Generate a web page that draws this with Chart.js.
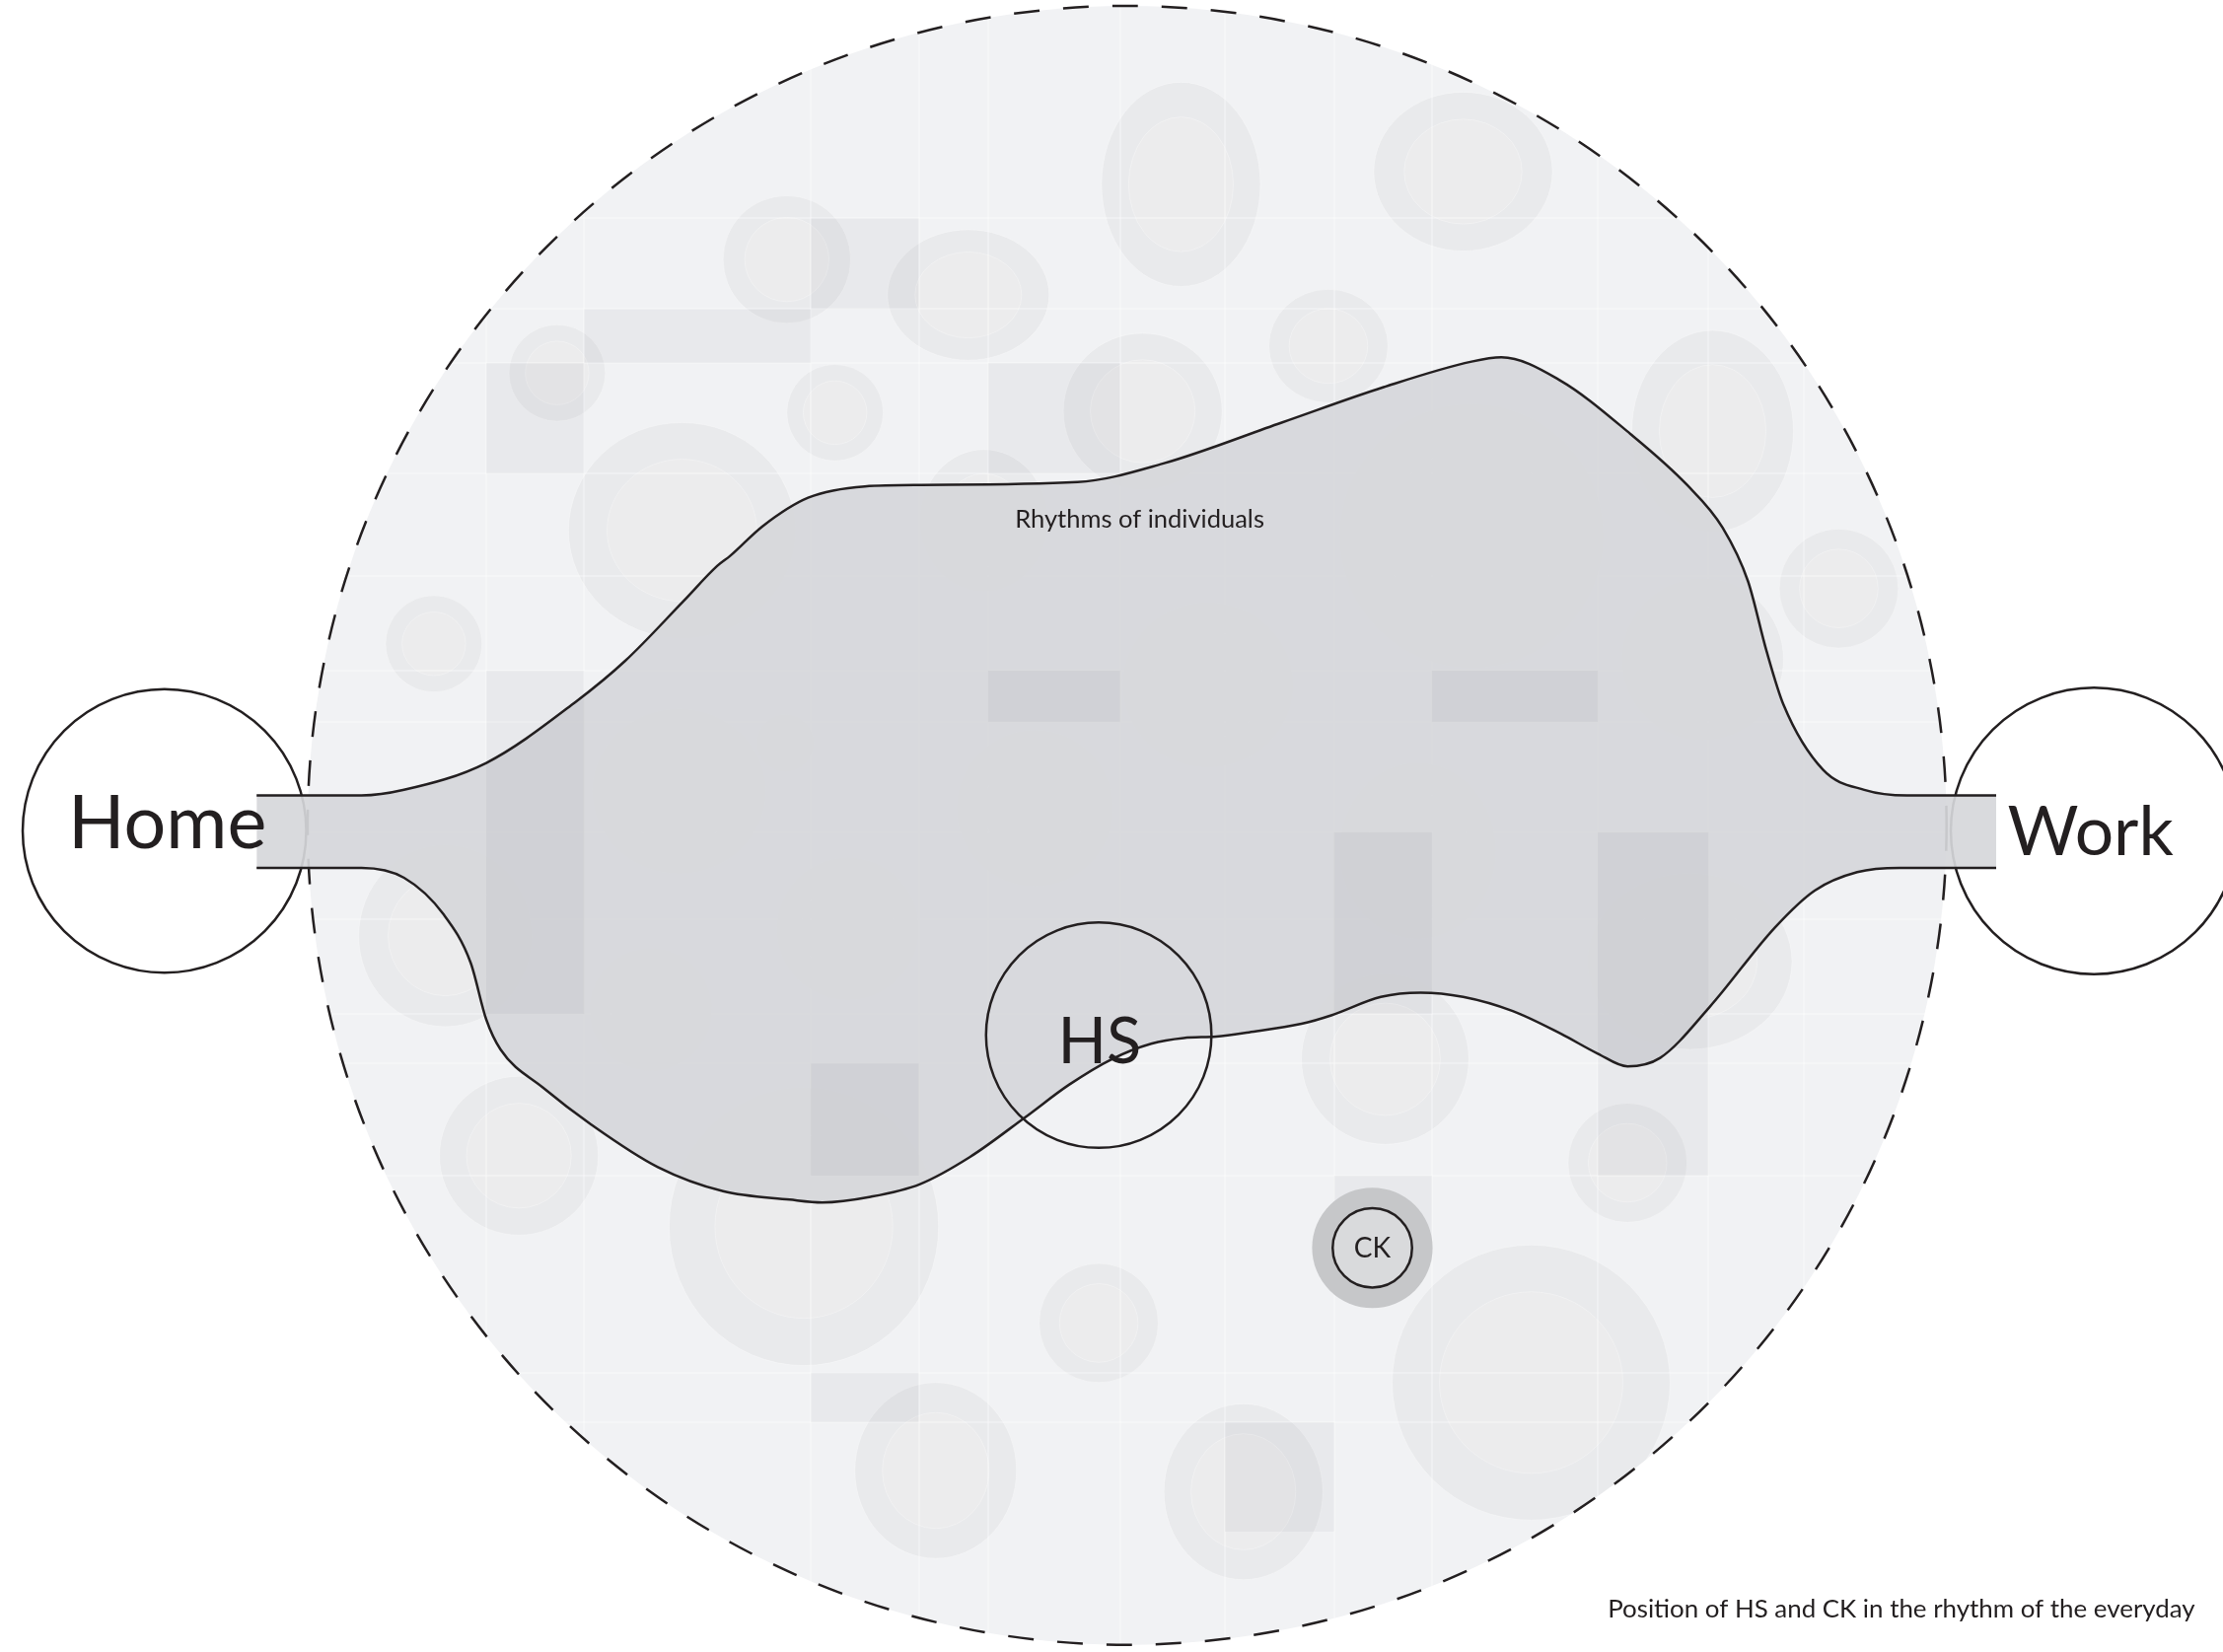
<!DOCTYPE html>
<html>
<head>
<meta charset="utf-8">
<title>Position of HS and CK in the rhythm of the everyday</title>
<script src="https://cdn.jsdelivr.net/npm/chart.js@4.4.1/dist/chart.umd.min.js"></script>
<style>
  html, body { margin: 0; padding: 0; background: #fff; }
  canvas { display: block; }
</style>
</head>
<body>
<canvas id="rhythm" width="2254" height="1675"></canvas>
<script>
// all values are in reference units: the drawing is 1568 x 1165 of them
const frameWidth = 1568;
const frameHeight = 1165;

// the dashed "everyday" disc
const discX = 795;
const discY = 582;
const discR = 578;

// rhythms of individuals: upper and lower edge, Home connector to Work connector
const topEdgeX = [181, 218, 255, 285, 343, 406, 441, 482, 506, 515, 538, 570, 610, 650, 760, 820, 904, 976, 1038, 1059, 1100, 1150, 1190, 1215, 1233, 1246, 1258, 1286, 1315, 1345, 1373, 1408];
const topEdgeY = [561, 561, 561, 557, 538, 495, 466, 424, 399, 392, 371, 351, 343, 342, 340, 327, 298, 273, 255, 252, 268, 306, 342, 372, 410, 459, 497, 543, 557, 561, 561, 561];
const bottomEdgeX = [181, 218, 255, 285, 313, 332, 343, 353, 383, 417, 464, 510, 557, 580, 614, 649, 684, 723, 754, 784, 812, 835, 858, 881, 918, 939, 974, 1002, 1032, 1067, 1101, 1127, 1148, 1171, 1206, 1252, 1280, 1310, 1340, 1373, 1408];
const bottomEdgeY = [612, 612, 612, 619, 645, 679, 719, 740, 767, 793, 823, 840, 846, 848, 844, 835, 816, 788, 765, 747, 736, 732, 731, 728, 722, 716, 703, 700, 703, 713, 729, 743, 752, 746, 710, 654, 628, 615, 612, 612, 612];

// places
const placeNames = ['Home', 'Work', 'HS', 'CK'];
const placeX = [116, 1477, 775, 968];
const placeY = [586, 586, 730, 880];
const placeR = [100, 101, 79.5, 28];
const ckHaloR = 42.5;

// background patches (ellipses)
const patchX = [833, 1032, 555, 683, 937, 393, 589, 806, 1208, 481, 694, 1038, 1297, 306, 852, 1201, 479, 554, 730, 1000, 314, 598, 459, 1192, 977, 366, 567, 1148, 775, 1080, 660, 877];
const patchY = [130, 121, 183, 208, 244, 263, 291, 290, 304, 374, 367, 378, 415, 454, 483, 465, 558, 524, 570, 600, 660, 655, 712, 678, 747, 815, 865, 820, 933, 975, 1037, 1052];
const patchRx = [56, 63, 45, 57, 42, 34, 34, 56, 57, 80, 45, 93, 42, 34, 60, 57, 61, 20, 55, 55, 61, 50, 43, 72, 59, 56, 95, 42, 42, 98, 57, 56];
const patchRy = [72, 56, 45, 46, 40, 34, 34, 55, 71, 76, 50, 93, 42, 34, 58, 57, 58, 20, 55, 62, 64, 50, 43, 62, 60, 56, 98, 42, 42, 97, 62, 62];

// background tiles
const tileLeft = [572, 412, 343, 697, 343, 697, 1010, 941, 1127, 572, 572, 864, 941];
const tileTop = [154, 218, 256, 256, 473, 473, 473, 587, 587, 750, 968, 1003, 829];
const tileRight = [648, 572, 412, 790, 412, 790, 1127, 1010, 1205, 648, 648, 941, 1010];
const tileBottom = [218, 256, 334, 334, 715, 509, 509, 715, 829, 829, 1003, 1080, 890];

// tile seams
const seamX = [343, 412, 572, 648, 697, 790, 864, 941, 1010, 1127, 1205, 1272];
const seamY = [154, 218, 256, 334, 406, 473, 509, 587, 648, 715, 750, 829, 968, 1003];

// captions: text, left, right, baseline
const captionText = ['Home', 'Work', 'HS', 'CK', 'Rhythms of individuals', 'Position of HS and CK in the rhythm of the everyday'];
const captionLeft = [48, 1416, 746, 955, 716, 1134];
const captionRight = [188, 1533, 805, 981, 892, 1548];
const captionBase = [598, 603, 750, 887, 372, 1141];

const ink = '#231f20';
const fontFamily = 'Lato, "Noto Sans", sans-serif';

const toPoints = (xs, ys) => xs.map((x, i) => ({x: x, y: ys[i]}));
const lenX = (chart, v) => Math.abs(chart.scales.x.getPixelForValue(v) - chart.scales.x.getPixelForValue(0));
const lenY = (chart, v) => Math.abs(chart.scales.y.getPixelForValue(v) - chart.scales.y.getPixelForValue(0));

const BOTTOM_EDGE = 1;

/**
 * 背景の円盤・模様・破線・文字
 */
const backdrop = {
  id: 'backdrop',
  beforeDraw(chart) {
    const {ctx} = chart;
    const sx = chart.scales.x;
    const sy = chart.scales.y;
    ctx.save();
    ctx.fillStyle = '#ffffff';
    ctx.fillRect(0, 0, chart.width, chart.height);

    ctx.beginPath();
    ctx.arc(sx.getPixelForValue(discX), sy.getPixelForValue(discY), lenX(chart, discR), 0, Math.PI * 2);
    ctx.fillStyle = '#f1f2f4';
    ctx.fill();
    ctx.clip();

    patchX.forEach((x, i) => {
      const cx = sx.getPixelForValue(x);
      const cy = sy.getPixelForValue(patchY[i]);
      const rx = lenX(chart, patchRx[i]);
      const ry = lenY(chart, patchRy[i]);
      ctx.beginPath();
      ctx.ellipse(cx, cy, rx, ry, 0, 0, Math.PI * 2);
      ctx.fillStyle = '#e9eaec';
      ctx.fill();
      ctx.strokeStyle = 'rgba(255,255,255,0.3)';
      ctx.lineWidth = 1;
      ctx.stroke();
      ctx.beginPath();
      ctx.ellipse(cx, cy, rx * 0.66, ry * 0.66, 0, 0, Math.PI * 2);
      ctx.fillStyle = '#ececed';
      ctx.fill();
      ctx.stroke();
    });
    ctx.restore();
  },
  beforeDatasetsDraw(chart) {
    const {ctx} = chart;
    ctx.save();
    ctx.beginPath();
    ctx.arc(chart.scales.x.getPixelForValue(discX), chart.scales.y.getPixelForValue(discY), lenX(chart, discR), 0, Math.PI * 2);
    ctx.setLineDash([26, 24]);
    ctx.lineWidth = 2.5;
    ctx.strokeStyle = ink;
    ctx.stroke();
    ctx.restore();
  },
  afterDatasetDraw(chart, args) {
    if (args.index !== BOTTOM_EDGE) return;
    // タイルは乗算で重ねる
    const {ctx} = chart;
    const sx = chart.scales.x;
    const sy = chart.scales.y;
    ctx.save();
    ctx.globalCompositeOperation = 'multiply';
    ctx.fillStyle = '#f6f6f7';
    tileLeft.forEach((x0, i) => {
      const l = sx.getPixelForValue(x0);
      const t = sy.getPixelForValue(tileTop[i]);
      ctx.fillRect(l, t, sx.getPixelForValue(tileRight[i]) - l, sy.getPixelForValue(tileBottom[i]) - t);
    });
    ctx.restore();
  },
  afterDatasetsDraw(chart) {
    const {ctx} = chart;
    const sx = chart.scales.x;
    const sy = chart.scales.y;
    ctx.save();
    ctx.fillStyle = ink;
    ctx.textAlign = 'left';
    ctx.textBaseline = 'alphabetic';
    captionText.forEach((text, i) => {
      const left = sx.getPixelForValue(captionLeft[i]);
      const width = sx.getPixelForValue(captionRight[i]) - left;
      ctx.font = `400 100px ${fontFamily}`;
      const size = 100 * width / ctx.measureText(text).width;
      ctx.font = `400 ${size.toFixed(1)}px ${fontFamily}`;
      ctx.fillText(text, left, sy.getPixelForValue(captionBase[i]));
    });
    ctx.restore();
  }
};

const placePoint = i => ({x: placeX[i], y: placeY[i]});

new Chart(document.getElementById('rhythm'), {
  type: 'scatter',
  data: {
    datasets: [
      {
        label: 'Rhythms of individuals',
        type: 'line',
        data: toPoints(topEdgeX, topEdgeY),
        fill: '+1',
        backgroundColor: 'rgba(214,215,218,0.92)',
        borderColor: ink,
        borderWidth: 2.5,
        pointRadius: 0,
        cubicInterpolationMode: 'monotone',
        order: 4
      },
      {
        label: 'Rhythms of individuals (lower edge)',
        type: 'line',
        data: toPoints(bottomEdgeX, bottomEdgeY),
        fill: false,
        borderColor: ink,
        borderWidth: 2.5,
        pointRadius: 0,
        cubicInterpolationMode: 'monotone',
        order: 3
      },
      {
        label: 'Home / Work',
        data: [placePoint(0), placePoint(1)],
        pointRadius: c => lenX(c.chart, placeR[c.dataIndex]),
        pointBackgroundColor: '#ffffff',
        pointBorderColor: ink,
        pointBorderWidth: 2.5,
        order: 5
      },
      {
        label: placeNames[2],
        data: [placePoint(2)],
        pointRadius: c => lenX(c.chart, placeR[2]),
        pointBackgroundColor: 'rgba(0,0,0,0)',
        pointBorderColor: ink,
        pointBorderWidth: 2.5,
        order: 2
      },
      {
        label: 'CK halo',
        data: [placePoint(3)],
        pointRadius: c => lenX(c.chart, ckHaloR),
        pointBackgroundColor: '#c6c7c9',
        pointBorderWidth: 0,
        order: 1
      },
      {
        label: placeNames[3],
        data: [placePoint(3)],
        pointRadius: c => lenX(c.chart, placeR[3]),
        pointBackgroundColor: '#d9dadc',
        pointBorderColor: ink,
        pointBorderWidth: 2.5,
        order: 0
      }
    ]
  },
  options: {
    responsive: false,
    animation: false,
    events: [],
    layout: {padding: 0},
    plugins: {
      legend: {display: false},
      tooltip: {enabled: false}
    },
    scales: {
      x: {
        type: 'linear',
        min: 0,
        max: frameWidth,
        afterBuildTicks: axis => { axis.ticks = seamX.map(v => ({value: v})); },
        ticks: {display: false},
        grid: {color: 'rgba(255,255,255,0.3)', lineWidth: 2, drawTicks: false},
        border: {display: false}
      },
      y: {
        type: 'linear',
        reverse: true,
        min: 0,
        max: frameHeight,
        afterBuildTicks: axis => { axis.ticks = seamY.map(v => ({value: v})); },
        ticks: {display: false},
        grid: {color: 'rgba(255,255,255,0.3)', lineWidth: 2, drawTicks: false},
        border: {display: false}
      }
    }
  },
  plugins: [backdrop]
});
</script>
</body>
</html>
